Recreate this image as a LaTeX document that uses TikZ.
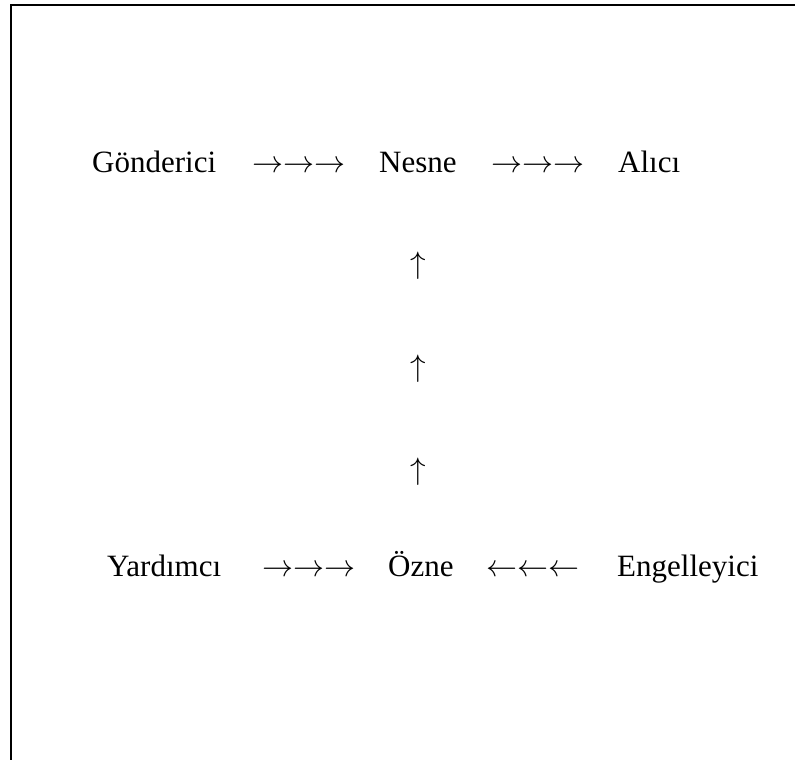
\RequirePackage{fix-cm}
\documentclass[tikz,border=0pt]{standalone}
\usepackage{fontspec}
\setmainfont{Liberation Serif}
\newcommand{\rrr}{$\rightarrow\rightarrow\rightarrow$}
\newcommand{\lll}{$\leftarrow\leftarrow\leftarrow$}
\begin{document}
\begin{tikzpicture}[x=1pt,y=-1pt,
  word/.style={inner sep=0pt,anchor=base west,font=\fontsize{31}{37}\selectfont},
  uparrow/.style={inner sep=0pt,anchor=center,font=\fontsize{31}{37}\selectfont}]
  \useasboundingbox (0,0) rectangle (795,760);
  % open frame: top and left edges only
  \draw[line width=2pt] (795,5) -- (11,5) -- (11,760);
  % upper row
  \node[word] (gonderici) at (92,172) {Gönderici};
  \node[word] (a1) at (252,172) {\rrr};
  \node[word] (nesne) at (379,172) {Nesne};
  \node[word] (a2) at (491,172) {\rrr};
  \node[word] (alici) at (618,172) {Alıcı};
  % vertical arrows
  \node[uparrow] (u1) at (418,266) {$\uparrow$};
  \node[uparrow] (u2) at (418,369) {$\uparrow$};
  \node[uparrow] (u3) at (418,472) {$\uparrow$};
  % lower row
  \node[word] (yardimci) at (107,576) {Yardımcı};
  \node[word] (a3) at (262,576) {\rrr};
  \node[word] (ozne) at (388,576) {Özne};
  \node[word] (a4) at (486,576) {\lll};
  \node[word] (engelleyici) at (617,576) {Engelleyici};
\end{tikzpicture}
\end{document}
